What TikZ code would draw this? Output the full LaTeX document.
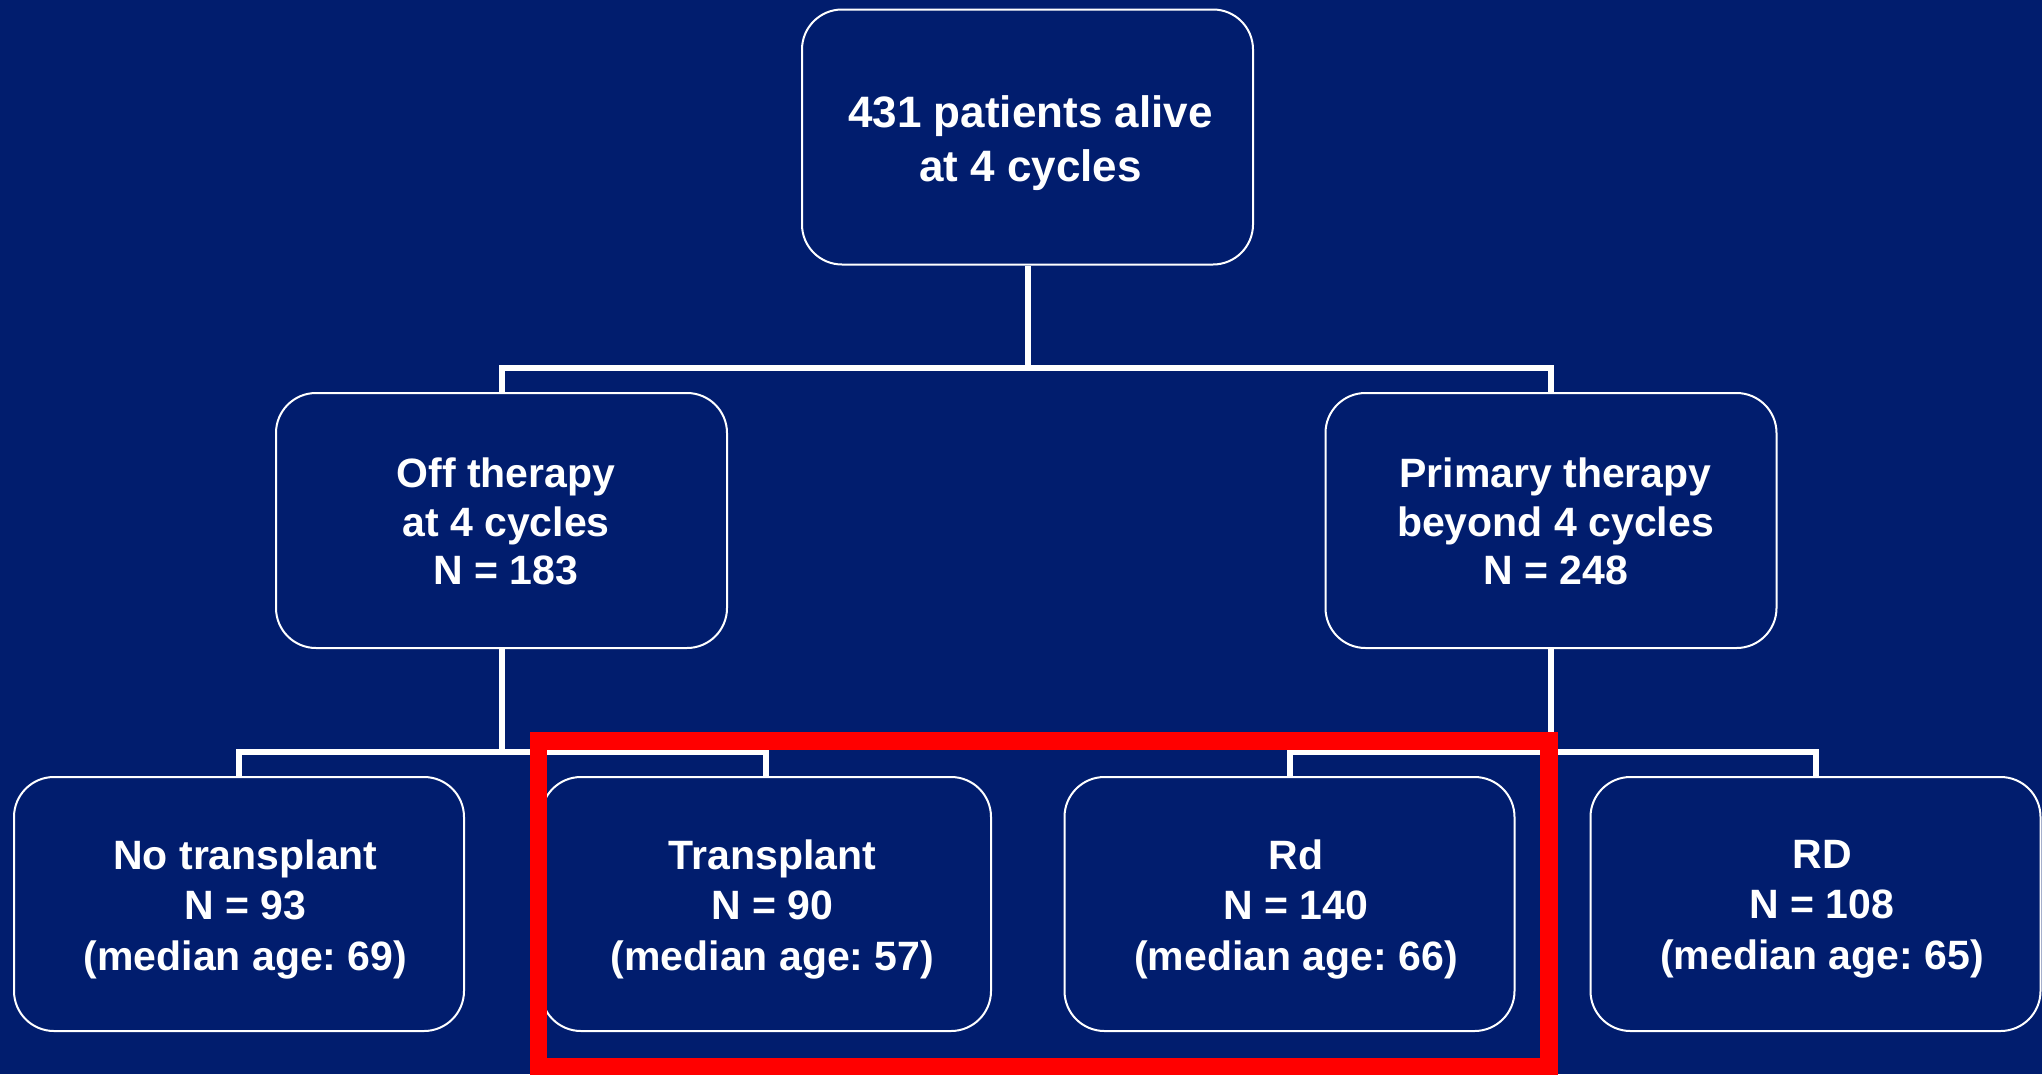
\documentclass[tikz,border=0pt]{standalone}
\usepackage{fontspec}
\setmainfont{Liberation Sans}
\frenchspacing
\definecolor{navy}{RGB}{1,29,110}
\definecolor{hlred}{RGB}{255,0,0}
\tikzset{
  box/.style={draw=white, line width=2pt, fill=navy, rounded corners=40pt,
    minimum width=451pt, minimum height=255pt, inner sep=0pt},
  smallbox/.style={box, minimum width=450pt, minimum height=254pt},
  lbl/.style={inner sep=0pt, align=center, text=white},
  toptext/.style={lbl, font=\fontsize{44}{54}\selectfont\bfseries\frenchspacing, xshift=3pt, yshift=-6pt},
  midtext/.style={lbl, font=\fontsize{41}{48.8}\selectfont\bfseries\frenchspacing, xshift=4.5pt, yshift=-1pt},
  lowtext/.style={lbl, font=\fontsize{41}{50.5}\selectfont\bfseries\frenchspacing, xshift=6.5pt, yshift=-5pt},
  conn/.style={draw=white, line width=6pt, line join=miter},
  highlight/.style={draw=hlred, line width=17.5pt, minimum width=1010.5pt,
    minimum height=325.5pt, inner sep=0pt, fill=none}
}
\begin{document}
\begin{tikzpicture}[x=1pt,y=-1pt]
\fill[navy] (0,0) rectangle (2042,1074);
\useasboundingbox (0,0) rectangle (2042,1074);
% boxes
\node[box, label={[toptext, name=top-t]center:{431 patients alive\\at 4 cycles}}] (top) at (1027.5,137) {};
\node[box, label={[midtext, name=off-t]center:{Off therapy\\at 4 cycles\\N = 183}}] (off) at (501.5,520.5) {};
\node[box, label={[midtext, name=prim-t]center:{Primary therapy\\beyond 4 cycles\\N = 248}}] (prim) at (1551,520.5) {};
\node[smallbox, label={[lowtext, name=notx-t]center:{No transplant\\N = 93\\(median age: 69)}}] (notx) at (239,904) {};
\node[smallbox, label={[lowtext, name=tx-t]center:{Transplant\\N = 90\\(median age: 57)}}] (tx) at (766,904) {};
\node[smallbox, label={[lowtext, name=rd-t]center:{Rd\\N = 140\\(median age: 66)}}] (rd) at (1289.5,904) {};
\node[smallbox, label={[lowtext, name=RD-t]center:{RD\\N = 108\\(median age: 65)}}] (RD) at (1815.5,904) {};
% junctions
\coordinate (j1) at (1027.5,368);
\coordinate (j2) at (501.5,752);
\coordinate (j3) at (1551,752);
% connectors
\draw[conn] (top.south) -- (j1);
\draw[conn] (off.north) |- (j1) -| (prim.north);
\draw[conn] (off.south) -- (j2);
\draw[conn] (notx.north) |- (j2) -| (tx.north);
\draw[conn] (prim.south) -- (j3);
\draw[conn] (rd.north) |- (j3) -| (RD.north);
% highlight
\node[highlight] (hl) at (1043.75,903.75) {};
\end{tikzpicture}
\end{document}
